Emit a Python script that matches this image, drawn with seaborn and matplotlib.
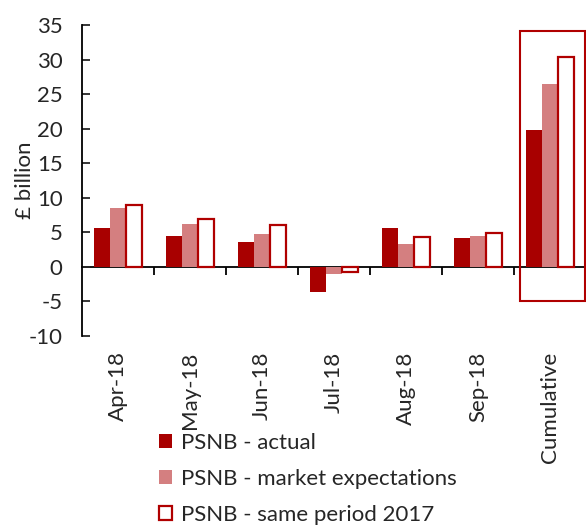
import pandas as pd
import seaborn as sns
import matplotlib.pyplot as plt
from matplotlib.patches import Patch, Rectangle

categories = ["Apr-18", "May-18", "Jun-18", "Jul-18", "Aug-18", "Sep-18", "Cumulative"]
actual = [5.6, 4.5, 3.6, -3.6, 5.6, 4.2, 19.8]
expectations = [8.5, 6.2, 4.8, -1.0, 3.3, 4.5, 26.5]
same_2017 = [9.0, 7.0, 6.1, -0.8, 4.3, 4.9, 30.4]
series = ["PSNB - actual", "PSNB - market expectations", "PSNB - same period 2017"]
colors = ["#A80000", "#D47F80", "#B00000"]

df = pd.DataFrame({
    "period": categories * 3,
    "value": actual + expectations + same_2017,
    "series": [s for s in series for _ in categories],
})

sns.set_style("white")
plt.rcParams["font.family"] = ["Lato", "DejaVu Sans"]
plt.rcParams["axes.unicode_minus"] = False
fs = 16

fig = plt.figure(figsize=(5.86, 5.31), dpi=100)
ax = fig.add_axes([82 / 586, 1 - 336 / 531, 1 - 82 / 586, (336 - 25) / 531])

sns.barplot(data=df, x="period", y="value", hue="series", palette=colors,
            width=0.68, ax=ax, legend=False, saturation=1)

# third series: hollow bars with red outline
for bar in ax.containers[2]:
    bar.set_facecolor("white")
    bar.set_edgecolor(colors[2])
    bar.set_linewidth(1.6)
for bar in list(ax.containers[0]) + list(ax.containers[1]):
    bar.set_edgecolor("none")

ax.set_ylim(-10, 35)
ax.set_xlim(-0.5, 6.5)
ax.set_yticks(range(-10, 36, 5))
ax.set_ylabel("£ billion", fontsize=fs, labelpad=-5)
ax.set_xlabel("")

for s in ["top", "right", "bottom"]:
    ax.spines[s].set_visible(False)
ax.spines["left"].set_color("black")
ax.spines["left"].set_linewidth(1.3)
ax.tick_params(axis="y", direction="in", length=6, width=1.3, pad=14, labelsize=fs, left=True)
ax.tick_params(axis="x", length=0, pad=11, labelsize=fs, rotation=90)

# zero line with ticks between categories
secax = ax.secondary_xaxis(10 / 45)
secax.set_xticks([i + 0.5 for i in range(len(categories) - 1)])
secax.set_xticklabels([])
secax.tick_params(direction="out", length=6, width=1.3, color="black")
secax.spines["bottom"].set_color("black")
secax.spines["bottom"].set_linewidth(1.3)

# highlight box around cumulative
ax.add_patch(Rectangle((5.58, -4.9), 0.91, 39.1, fill=False, edgecolor="#B00000",
                       linewidth=1.5, clip_on=False))

handles = [Patch(facecolor=colors[0], edgecolor="none"),
           Patch(facecolor=colors[1], edgecolor="none"),
           Patch(facecolor="white", edgecolor=colors[2], linewidth=1.6)]
fig.legend(handles, series, loc="upper left", bbox_to_anchor=(159 / 586, 1 - 433 / 531),
           frameon=False, fontsize=fs, handlelength=0.6, handleheight=0.6,
           handletextpad=0.4, labelspacing=0.72, borderpad=0, borderaxespad=0)

fig.savefig("out.png", dpi=100)
